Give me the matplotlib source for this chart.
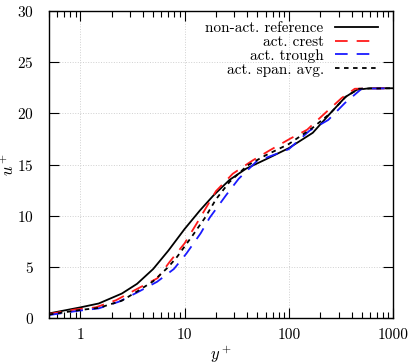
import numpy as np
import matplotlib
matplotlib.use('Agg')
import matplotlib.pyplot as plt
from matplotlib.ticker import FixedLocator, FixedFormatter, LogLocator, NullFormatter

plt.rcParams['font.family'] = 'cmr10'
plt.rcParams['mathtext.fontset'] = 'cm'
plt.rcParams['axes.formatter.use_mathtext'] = True

# mean velocity profiles
ref_y = [0.5, 1.0, 1.5, 2.5, 3.5, 5, 7, 10, 14, 19, 27, 39, 60, 100, 170, 250, 350, 450, 600, 1000]
ref_u = [0.46, 1.05, 1.43, 2.4, 3.35, 4.8, 6.6, 8.7, 10.5, 12.0, 13.5, 14.6, 15.5, 16.6, 18.1, 20.0, 21.6, 22.3, 22.45, 22.45]

crest_y = [0.5, 0.9, 1.4, 2.2, 3.5, 5.5, 7.2, 10, 13, 20, 29, 45, 66, 102, 150, 222, 322, 430, 1000]
crest_u = [0.4, 0.85, 1.05, 1.75, 2.85, 3.9, 5.5, 7.3, 9.2, 12.4, 14.1, 15.4, 16.4, 17.5, 18.4, 20.0, 21.5, 22.4, 22.45]

trough_y = [0.5, 0.96, 1.5, 2.34, 3.5, 5.45, 7.9, 10.4, 14.3, 17.4, 25, 33, 49, 100, 158, 239, 345, 500, 1000]
trough_u = [0.3, 0.72, 0.95, 1.6, 2.5, 3.55, 4.8, 6.3, 8.3, 9.8, 12.0, 13.6, 15.3, 16.5, 18.3, 19.35, 21.0, 22.4, 22.45]

avg_y = [0.5, 1, 1.5, 2.5, 3.5, 5, 7, 8.5, 12, 15.7, 20, 27, 40, 60, 100, 170, 250, 350, 470, 1000]
avg_u = [0.35, 0.8, 1.0, 1.7, 2.6, 3.6, 5.0, 6.0, 8.1, 9.8, 11.6, 13.3, 14.9, 15.9, 17.0, 18.6, 20.0, 21.6, 22.4, 22.45]

xticks = [1, 10, 100, 1000]
xtick_labels = ['1', '10', '100', '1000']
yticks = [0, 5, 10, 15, 20, 25, 30]

fig = plt.figure(figsize=(4.15, 3.64), dpi=100)
ax = fig.add_axes([0.118, 0.126, 0.829, 0.844])

ax.plot(ref_y, ref_u, color='black', lw=1.3, label='non-act. reference')
ax.plot(crest_y, crest_u, color='#ff1a1a', lw=1.3, dashes=(7, 5), label='act. crest')
ax.plot(trough_y, trough_u, color='#1a1aff', lw=1.3, dashes=(7, 5), label='act. trough')
ax.plot(avg_y, avg_u, color='black', lw=1.3, dashes=(2.5, 2.5), label='act. span. avg.')

ax.set_xscale('log')
ax.set_xlim(0.5, 1000)
ax.set_ylim(0, 30)
ax.xaxis.set_major_locator(FixedLocator(xticks))
ax.xaxis.set_major_formatter(FixedFormatter(xtick_labels))
ax.xaxis.set_minor_locator(LogLocator(base=10, subs=np.arange(2, 10)))
ax.xaxis.set_minor_formatter(NullFormatter())
ax.set_yticks(yticks)

ax.tick_params(which='both', direction='in', top=True, right=True, labelsize=11, width=0.8)
ax.tick_params(which='major', length=7)
ax.tick_params(axis='x', which='major', pad=7)
ax.tick_params(axis='y', which='major', pad=11)
ax.tick_params(which='minor', length=4)
ax.grid(True, which='major', color='#d0d0d0', ls=':', lw=0.7)
for s in ax.spines.values():
    s.set_linewidth(1.0)

ax.set_xlabel(r'$y^+$', fontsize=12, labelpad=2)
ax.set_ylabel(r'$u^+$', fontsize=12, labelpad=0)

leg = ax.legend(loc='upper right', bbox_to_anchor=(0.974, 0.985), frameon=False,
                markerfirst=False, fontsize=11, handlelength=2.8, handletextpad=0.75,
                labelspacing=0.0, borderaxespad=0.0)

fig.savefig('out.png', dpi=100)
